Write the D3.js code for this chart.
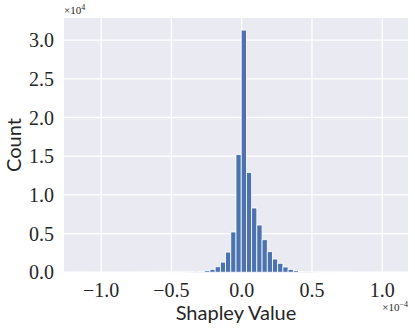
<!DOCTYPE html>
<html>
<head>
<meta charset="utf-8">
<script src="https://cdn.jsdelivr.net/npm/d3@7"></script>
<style>
    body { margin: 0; background: #fff; }
    .tick-label { font-family: "Liberation Serif", serif; font-size: 20px; fill: #262626; }
    .axis-label { font-family: "Lato", sans-serif; font-size: 20px; fill: #262626; }
    .offset-label { font-family: "Liberation Serif", serif; font-size: 11px; fill: #262626; }
</style>
</head>
<body>
<svg id="chart" width="415" height="331"></svg>
<script>
// histogram of shapley values, 60 bins between min and max
const valueMin = -1.153e-4;
const valueMax = 1.072e-4;
const counts = [
    1, 0, 0, 0, 0, 0, 0, 0, 0, 0,
    0, 0, 1, 0, 1, 2, 2, 3, 4, 6,
    10, 20, 50, 110, 200, 370, 700, 1300, 2600, 5200,
    15200, 31300, 12900, 8300, 6100, 4200, 2650, 1700, 1150, 670,
    370, 200, 90, 40, 20, 10, 6, 4, 3, 2,
    1, 1, 0, 0, 0, 0, 0, 0, 0, 1
];

const xTicks = [-1.0e-4, -0.5e-4, 0, 0.5e-4, 1.0e-4];
const xTickLabels = ['\u22121.0', '\u22120.5', '0.0', '0.5', '1.0'];
const yTicks = [0, 5000, 10000, 15000, 20000, 25000, 30000];
const yTickLabels = ['0.0', '0.5', '1.0', '1.5', '2.0', '2.5', '3.0'];

let margin = { left: 64, right: 7, top: 18, bottom: 58.8 };
let width = 415 - margin.left - margin.right;
let height = 331 - margin.top - margin.bottom;

let binWidth = (valueMax - valueMin) / counts.length;
let bins = counts.map((c, i) => ({
    x0: valueMin + i * binWidth,
    x1: valueMin + (i + 1) * binWidth,
    count: c
}));

// matplotlib style 5% margins
let pad = (valueMax - valueMin) * 0.05;
let x = d3.scaleLinear().domain([valueMin - pad, valueMax + pad]).range([0, width]);
let y = d3.scaleLinear().domain([0, d3.max(counts) * 1.05]).range([height, 0]);

let svg = d3.select('#chart');
let g = svg.append('g').attr('transform', `translate(${margin.left},${margin.top})`);

g.append('rect')
    .attr('width', width)
    .attr('height', height)
    .attr('fill', '#eaeaf2');

g.selectAll('.grid-x')
    .data(xTicks)
    .enter()
        .append('line')
        .attr('class', 'grid-x')
        .attr('x1', d => x(d)).attr('x2', d => x(d))
        .attr('y1', 0).attr('y2', height)
        .attr('stroke', '#fff').attr('stroke-width', 1.3);

g.selectAll('.grid-y')
    .data(yTicks)
    .enter()
        .append('line')
        .attr('class', 'grid-y')
        .attr('x1', 0).attr('x2', width)
        .attr('y1', d => y(d)).attr('y2', d => y(d))
        .attr('stroke', '#fff').attr('stroke-width', 1.3);

g.selectAll('.bar')
    .data(bins.filter(d => d.count > 0))
    .enter()
        .append('rect')
        .attr('class', 'bar')
        .attr('x', d => x(d.x0))
        .attr('width', d => x(d.x1) - x(d.x0))
        .attr('y', d => y(d.count))
        .attr('height', d => height - y(d.count))
        .attr('fill', '#4c72b0')
        .attr('stroke', '#fff')
        .attr('stroke-width', 0.8);

// tick labels
g.selectAll('.ytick')
    .data(yTicks)
    .enter()
        .append('text')
        .attr('class', 'tick-label')
        .attr('x', -10)
        .attr('y', d => y(d) + 7)
        .attr('text-anchor', 'end')
        .text((d, i) => yTickLabels[i]);

g.selectAll('.xtick')
    .data(xTicks)
    .enter()
        .append('text')
        .attr('class', 'tick-label')
        .attr('x', d => x(d))
        .attr('y', height + 24.5)
        .attr('text-anchor', 'middle')
        .text((d, i) => xTickLabels[i]);

// axis labels
g.append('text')
    .attr('class', 'axis-label')
    .attr('x', width / 2)
    .attr('y', height + 47.5)
    .attr('text-anchor', 'middle')
    .text('Shapley Value');

g.append('text')
    .attr('class', 'axis-label')
    .attr('transform', `translate(${21 - margin.left},${height / 2}) rotate(-90)`)
    .attr('text-anchor', 'middle')
    .text('Count');

// offset texts
let topOffset = g.append('text')
    .attr('class', 'offset-label')
    .attr('x', 0)
    .attr('y', -4);
topOffset.append('tspan').text('\u00d710');
topOffset.append('tspan').attr('font-size', 8).attr('dy', -4).text('4');

let bottomOffset = g.append('text')
    .attr('class', 'offset-label')
    .attr('x', width)
    .attr('y', height + 39)
    .attr('text-anchor', 'end');
bottomOffset.append('tspan').text('\u00d710');
bottomOffset.append('tspan').attr('font-size', 8).attr('dy', -4).text('\u22124');
</script>
</body>
</html>
